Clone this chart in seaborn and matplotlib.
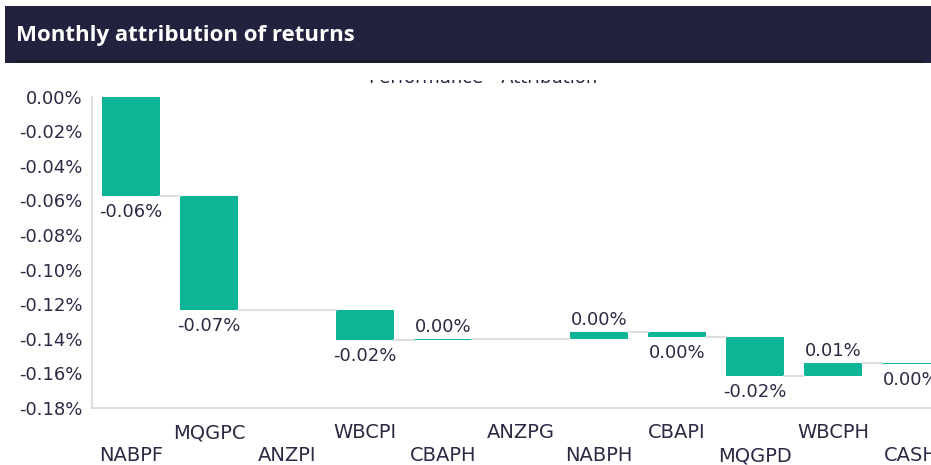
import matplotlib
matplotlib.use("Agg")
import matplotlib.pyplot as plt
import seaborn as sns
import numpy as np
import pandas as pd
from matplotlib.patches import Rectangle
from matplotlib.transforms import Bbox, TransformedBbox

# data (contribution in %)
categories = ["NABPF", "MQGPC", "ANZPI", "WBCPI", "CBAPH", "ANZPG",
              "NABPH", "CBAPI", "MQGPD", "WBCPH", "CASH"]
contrib = [-0.0576, -0.0656, 0.0, -0.0173, 0.0004, 0.0,
           0.0042, -0.0031, -0.0223, 0.0073, -0.0006]
y_ticks = [0.00, -0.02, -0.04, -0.06, -0.08, -0.10, -0.12, -0.14, -0.16, -0.18]

header_title = "Monthly attribution of returns"
chart_title = "Performance - Attribution"

teal = "#0db596"
navy = "#22223f"
ink = "#2a2a44"
grid_grey = "#dedede"

df = pd.DataFrame({"code": categories, "contrib": contrib})
df["end"] = df["contrib"].cumsum()
df["start"] = df["end"] - df["contrib"]

sns.set_theme(style="white")
plt.rcParams["font.family"] = ["DejaVu Sans"]

W, H = 931, 465
fig = plt.figure(figsize=(W / 100, H / 100), dpi=100)
ax = fig.add_axes([92 / W, 57 / H, 858 / W, 311.5 / H])

# waterfall: each bar floats from the running total before it
sns.barplot(data=df, x="code", y="contrib", bottom=df["start"].values,
            color=teal, saturation=1, width=0.74, errorbar=None,
            linewidth=0, ax=ax)

# connector lines: from a bar's right edge to the next non-zero bar
half = 0.37
nonzero = [i for i, v in enumerate(contrib) if v != 0]
for a, b in zip(nonzero[:-1], nonzero[1:]):
    lvl = df["end"].iloc[a]
    ax.plot([a + half, b - half], [lvl, lvl], color=grid_grey, lw=1.5, zorder=1)

# value labels
for i, row in df.iterrows():
    v = row["contrib"]
    if v == 0:
        continue
    txt = f"{v:.2f}%"
    if txt == "-0.00%":
        txt = "0.00%"
    if v < 0:
        ax.annotate(txt, (i, min(row["start"], row["end"])), xytext=(0, -5),
                    textcoords="offset points", ha="center", va="top",
                    fontsize=13, color=ink)
    else:
        ax.annotate(txt, (i, max(row["start"], row["end"])), xytext=(0, 5),
                    textcoords="offset points", ha="center", va="baseline",
                    fontsize=13, color=ink)

ax.set_xlim(-0.5, len(df) - 0.5)
ax.set_ylim(-0.18, 0.0)
ax.set_yticks(y_ticks)
ax.set_yticklabels([f"{t:.2f}%" for t in y_ticks])

# staggered category labels: even on lower row, odd on upper row
idx = np.arange(len(categories))
ax.set_xticks(idx[::2], [categories[i] for i in idx[::2]])
ax.set_xticks(idx[1::2], [categories[i] for i in idx[1::2]], minor=True)
ax.tick_params(axis="x", which="major", length=0, pad=27.5, labelsize=14, labelcolor=ink)
ax.tick_params(axis="x", which="minor", length=0, pad=11, labelsize=14, labelcolor=ink)
ax.tick_params(axis="y", length=0, pad=7, labelsize=13, labelcolor=ink)
ax.set_xlabel("")
ax.set_ylabel("")

for side in ["top", "right"]:
    ax.spines[side].set_visible(False)
for side in ["left", "bottom"]:
    ax.spines[side].set_color(grid_grey)
    ax.spines[side].set_linewidth(1.5)

# chart title, only its lowest pixels show below the header band
t = fig.text(483 / W, 1 - 83 / H, chart_title, ha="center", va="baseline",
             fontsize=13, color=ink, zorder=1)
t.set_clip_on(True)
t.set_clip_box(TransformedBbox(Bbox([[0, 0], [1, 1 - 80 / H]]), fig.transFigure))

fig.add_artist(Rectangle((5 / W, 1 - 63 / H), 1, 57 / H, transform=fig.transFigure,
                         facecolor=navy, edgecolor="none", zorder=6))
fig.add_artist(Rectangle((15 / W, 1 - 63 / H), 908 / W, 3 / H, transform=fig.transFigure,
                         facecolor="#1c1c26", edgecolor="none", zorder=7))
fig.text(16 / W, 1 - 36 / H, header_title, ha="left", va="center",
         fontsize=16, fontweight="bold", color="white",
         family=["Open Sans", "DejaVu Sans"], zorder=8)

fig.savefig("out.png", dpi=100)
